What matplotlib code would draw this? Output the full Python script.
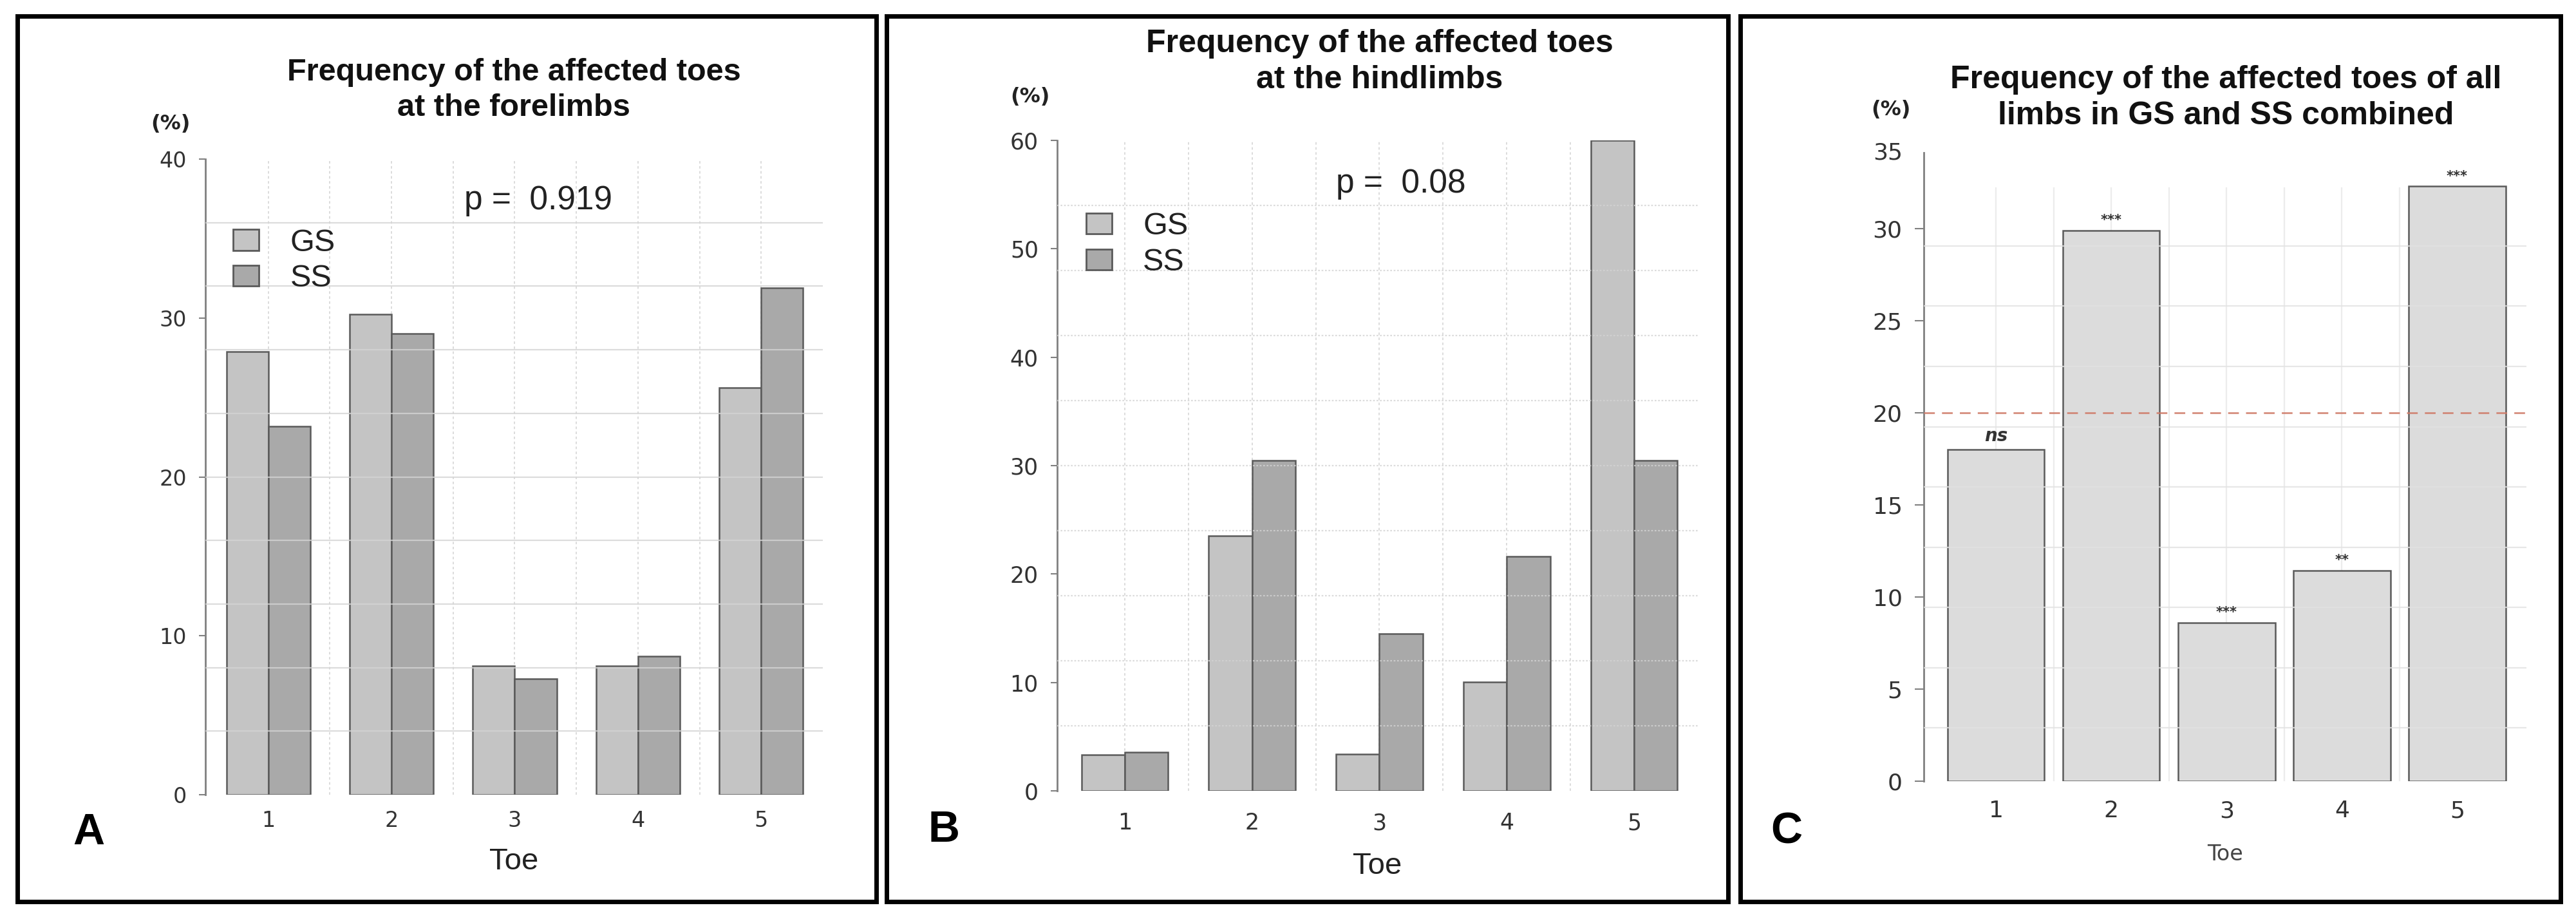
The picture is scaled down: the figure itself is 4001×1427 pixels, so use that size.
import matplotlib
matplotlib.use('Agg')
import matplotlib.pyplot as plt
from matplotlib.patches import Rectangle, Patch
import numpy as np

W, H = 4001, 1427

def fx(x):
    return x / W

def fy(y):
    return 1 - y / H

# data
toes = [1, 2, 3, 4, 5]
toe_labels = ['1', '2', '3', '4', '5']
fore_gs = [27.9, 30.25, 8.1, 8.1, 25.6]
fore_ss = [23.2, 29.0, 7.3, 8.7, 31.9]
hind_gs = [3.35, 23.55, 3.4, 10.05, 60.0]
hind_ss = [3.55, 30.5, 14.5, 21.6, 30.5]
comb = [18.0, 29.9, 8.6, 11.45, 32.3]
comb_sig = ['ns', '***', '***', '**', '***']
groups = ['GS', 'SS']
p_fore = 'p =  0.919'
p_hind = 'p =  0.08'

c_gs = '#c4c4c4'
c_ss = '#a9a9a9'
c_edge = '#5a5a5a'
sans = 'Liberation Sans'

fig = plt.figure(figsize=(W / 100, H / 100), dpi=100)

# panel frames
for x0, x1 in [(26.5, 1360.5), (1376.5, 2683.5), (2703, 3977)]:
    fig.add_artist(Rectangle((fx(x0), fy(1400)), (x1 - x0) / W, (1400 - 24.5) / H,
                             transform=fig.transFigure, fill=False, lw=5, ec='black'))


def style_axis(ax, ymax, ticks, tsize, ylen, ypad, xpad):
    for s in ['top', 'right', 'bottom']:
        ax.spines[s].set_visible(False)
    ax.spines['left'].set_color('#808080')
    ax.spines['left'].set_linewidth(2)
    ax.set_ylim(0, ymax)
    ax.set_yticks(ticks)
    ax.set_xticks(toes)
    ax.set_xticklabels(toe_labels)
    ax.tick_params(axis='y', length=ylen, width=1.5, color='#808080', pad=ypad,
                   labelsize=tsize, labelcolor='#333333')
    ax.tick_params(axis='x', length=0, pad=xpad, labelsize=tsize, labelcolor='#333333')
    for lab in ax.get_xticklabels() + ax.get_yticklabels():
        lab.set_family('DejaVu Sans')
    ax.patch.set_alpha(0)


def grouped(ax, gs, ss, hgrid, hstyle, p_text, p_xy):
    x = np.array(toes)
    ax.bar(x - 0.17, gs, width=0.34, color=c_gs, edgecolor=c_edge, lw=1.8, zorder=2)
    ax.bar(x + 0.17, ss, width=0.34, color=c_ss, edgecolor=c_edge, lw=1.8, zorder=2)
    for y in hgrid:
        ax.axhline(y, color='#d4d4d4', lw=1.6, ls=hstyle, alpha=0.8, zorder=3)
    for xv in np.arange(1, 5.01, 0.5):
        ax.axvline(xv, color='#dcdcdc', lw=1.4, ls=(0, (2, 2)), zorder=1)
    ax.text(p_xy[0], p_xy[1], p_text, ha='center', va='center', fontsize=37,
            family=sans, color='#222222')
    handles = [Patch(facecolor=c_gs, edgecolor=c_edge, lw=2),
               Patch(facecolor=c_ss, edgecolor=c_edge, lw=2)]
    leg = ax.legend(handles, groups, loc='center left', bbox_to_anchor=(0.045, 0.84),
                    frameon=False, borderpad=0, borderaxespad=0, handlelength=0.82,
                    handleheight=0.64, handletextpad=1.0, labelspacing=0.22,
                    prop={'family': sans, 'size': 35})
    for t in leg.get_texts():
        t.set_color('#222222')


# A: forelimbs
axA = fig.add_axes([fx(319), fy(1234), (1278 - 319) / W, (1234 - 247) / H])
axA.set_xlim(0.49, 5.5)
style_axis(axA, 40, [0, 10, 20, 30, 40], 24, 7, 14, 17)
grouped(axA, fore_gs, fore_ss, range(4, 40, 4), '-', p_fore, (3.19, 37.4))
axA.set_xlabel('Toe', fontsize=34, family=sans, color='#222222')
axA.xaxis.set_label_coords(0.5, (1234 - 1338) / 987)
axA.xaxis.label.set_va('center')

# B: hindlimbs
axB = fig.add_axes([fx(1642), fy(1228), (2637 - 1642) / W, (1228 - 218) / H])
axB.set_xlim(0.47, 5.5)
style_axis(axB, 60, [0, 10, 20, 30, 40, 50, 60], 25, 7, 14, 24)
grouped(axB, hind_gs, hind_ss, range(6, 60, 6), (0, (1.2, 1.2)), p_hind, (3.17, 56.0))
axB.set_xlabel('Toe', fontsize=34, family=sans, color='#222222')
axB.xaxis.set_label_coords(0.5, (1228 - 1345) / 1010)
axB.xaxis.label.set_va('center')

# C: combined
c_top = 34.13
axC = fig.add_axes([fx(2988), fy(1213), (3924 - 2988) / W, (1213 - 237) / H])
axC.set_xlim(0.374, 5.6)
style_axis(axC, c_top, [0, 5, 10, 15, 20, 25, 30], 26, 10, 14, 21)
axC.text(-0.035, c_top, '35', transform=axC.get_yaxis_transform(), ha='right',
         va='center', fontsize=26, family='DejaVu Sans', color='#333333')
for xv in np.arange(1, 5.01, 0.5):
    axC.axvline(xv, ymax=32.2 / c_top, color='#ececec', lw=1.6, zorder=1)
axC.bar(toes, comb, width=0.84, color='#dcdcdc', edgecolor=c_edge, lw=1.8, zorder=2)
for y in np.arange(2.9, 30, 3.27):
    axC.axhline(y, color='#e2e2e2', lw=1.6, alpha=0.8, zorder=3)
axC.axhline(20, color='#cf7a68', lw=2, ls=(0, (6, 4)), alpha=0.85, zorder=4)
for xv, v, s in zip(toes, comb, comb_sig):
    if s == 'ns':
        axC.text(xv, v + 0.25, s, ha='center', va='bottom', fontsize=20,
                 fontweight='bold', fontstyle='italic', color='#333333')
    else:
        axC.text(xv, v + 0.2, s, ha='center', va='bottom', fontsize=15,
                 fontweight='bold', color='#333333')
axC.set_xlabel('Toe', fontsize=24, family='DejaVu Sans', color='#444444')
axC.xaxis.set_label_coords(0.5, (1213 - 1327) / 976)
axC.xaxis.label.set_va('center')

# titles, unit labels, panel letters
titles = [('Frequency of the affected toes\nat the forelimbs', 798, 140, 35),
          ('Frequency of the affected toes\nat the hindlimbs', 2143, 96, 36),
          ('Frequency of the affected toes of all\nlimbs in GS and SS combined', 3457, 152, 36)]
for t, x, y, s in titles:
    fig.text(fx(x), fy(y), t, ha='center', va='center', fontsize=s, fontweight='bold',
             family=sans, linespacing=1.28, color='#111111')

for x, y in [(265, 192), (1600, 150), (2937, 170)]:
    fig.text(fx(x), fy(y), '(%)', ha='center', va='center', fontsize=23,
             fontweight='bold', family='DejaVu Sans', color='#222222')

for lab, x, y in [('A', 138, 1293), ('B', 1466, 1289), ('C', 2775, 1292)]:
    fig.text(fx(x), fy(y), lab, ha='center', va='center', fontsize=49,
             fontweight='bold', family=sans, color='black')

fig.savefig('out.png', dpi=100)
